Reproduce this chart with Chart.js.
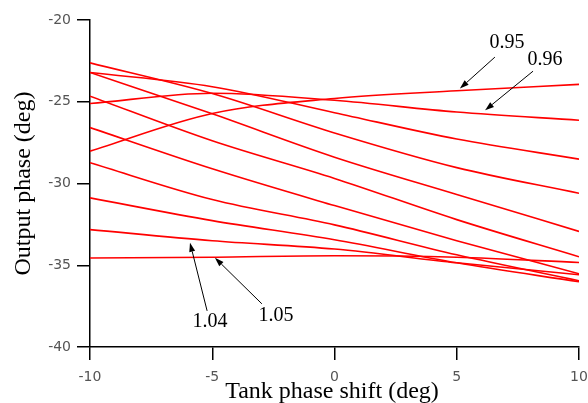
<!DOCTYPE html>
<html><head><meta charset="utf-8">
<script src="https://cdn.jsdelivr.net/npm/chart.js@4.4.1/dist/chart.umd.min.js"></script>
<style>html,body{margin:0;padding:0;background:#fff;}canvas{display:block;}</style>
</head><body>
<canvas id="c" width="588" height="403"></canvas>
<script>
// Tank phase shift (deg) sample positions
const xValues = [-10, -5, 0, 5, 10];
// Output phase (deg) per curve parameter
const seriesNames = ['0.95','0.96','0.97','0.98','0.99','1.00','1.01','1.02','1.03','1.04','1.05'];
const s095 = [-28.02, -25.72, -24.80, -24.33, -23.94];
const s096 = [-25.11, -24.48, -24.91, -25.63, -26.13];
const s097 = [-23.21, -24.08, -25.67, -27.28, -28.51];
const s098 = [-22.62, -24.50, -26.91, -29.03, -30.60];
const s099 = [-23.21, -25.74, -28.39, -30.67, -32.93];
const s100 = [-24.66, -27.39, -29.69, -32.21, -34.48];
const s101 = [-26.58, -29.10, -31.35, -33.50, -35.52];
const s102 = [-28.73, -30.98, -32.53, -34.36, -35.95];
const s103 = [-30.88, -32.27, -33.44, -34.85, -36.01];
const s104 = [-32.82, -33.50, -34.01, -34.85, -35.58];
const s105 = [-34.56, -34.51, -34.42, -34.51, -34.83];
const seriesValues = [s095, s096, s097, s098, s099, s100, s101, s102, s103, s104, s105];
const xTicks = [-10, -5, 0, 5, 10];
const yTicks = [-40, -35, -30, -25, -20];
// callouts: label text, text position, arrow start, arrow tip (data units)
const calloutText = ['0.95', '0.96', '1.04', '1.05'];
const calloutTextPos = [[7.06, -21.41], [8.61, -22.45], [-5.09, -38.47], [-2.39, -38.10]];
const calloutFrom = [[6.56, -22.27], [8.12, -23.13], [-5.21, -37.79], [-2.97, -37.36]];
const calloutTip = [[5.13, -24.19], [6.16, -25.52], [-5.91, -33.62], [-4.89, -34.54]];

const datasets = seriesValues.map((vals, i) => ({
  label: seriesNames[i],
  data: xValues.map((x, j) => ({x: x, y: vals[j]})),
  borderColor: '#ff0000',
  borderWidth: 1.6,
  pointRadius: 0,
  fill: false,
  cubicInterpolationMode: 'monotone'
}));

const decor = {
  id: 'decor',
  afterDraw(chart) {
    const ctx = chart.ctx, xs = chart.scales.x, ys = chart.scales.y, a = chart.chartArea;
    ctx.save();
    ctx.fillStyle = '#000';
    ctx.font = '24px "Liberation Serif", serif';
    ctx.textAlign = 'center';
    ctx.textBaseline = 'alphabetic';
    ctx.fillText('Tank phase shift (deg)', 332, 398);
    ctx.save();
    ctx.translate(30, (a.top + a.bottom) / 2);
    ctx.rotate(-Math.PI / 2);
    ctx.fillText('Output phase (deg)', 0, 0);
    ctx.restore();
    ctx.font = '20px "Liberation Serif", serif';
    ctx.textBaseline = 'middle';
    ctx.strokeStyle = '#000';
    ctx.lineWidth = 1;
    calloutText.forEach((t, i) => {
      ctx.fillText(t, xs.getPixelForValue(calloutTextPos[i][0]), ys.getPixelForValue(calloutTextPos[i][1]));
      const x0 = xs.getPixelForValue(calloutFrom[i][0]), y0 = ys.getPixelForValue(calloutFrom[i][1]);
      const x1 = xs.getPixelForValue(calloutTip[i][0]), y1 = ys.getPixelForValue(calloutTip[i][1]);
      const ang = Math.atan2(y1 - y0, x1 - x0), L = 9, W = 3;
      const bx = x1 - L * Math.cos(ang), by = y1 - L * Math.sin(ang);
      ctx.beginPath(); ctx.moveTo(x0, y0); ctx.lineTo(bx, by); ctx.stroke();
      ctx.beginPath();
      ctx.moveTo(x1, y1);
      ctx.lineTo(bx + W * Math.sin(ang), by - W * Math.cos(ang));
      ctx.lineTo(bx - W * Math.sin(ang), by + W * Math.cos(ang));
      ctx.closePath(); ctx.fill();
    });
    ctx.restore();
  }
};

new Chart(document.getElementById('c'), {
  type: 'line',
  data: {datasets: datasets},
  options: {
    responsive: false,
    devicePixelRatio: 1,
    animation: false,
    layout: {padding: {top: 20, right: 9, left: 0, bottom: 0}},
    plugins: {legend: {display: false}, tooltip: {enabled: false}},
    scales: {
      x: {
        type: 'linear', min: -10, max: 10,
        afterFit(s) { s.height = 56; s.paddingLeft = 0; s.paddingRight = 0; },
        afterBuildTicks(s) { s.ticks = xTicks.map(v => ({value: v})); },
        ticks: {color: '#555', font: {family: '"DejaVu Sans"', size: 14}, padding: 9, maxRotation: 0},
        grid: {drawOnChartArea: false, drawTicks: true, tickLength: 13, color: '#000', lineWidth: 1.5},
        border: {display: true, color: '#000', width: 1.5}
      },
      y: {
        type: 'linear', min: -40, max: -20,
        afterFit(s) { s.width = 90; s.paddingTop = 0; s.paddingBottom = 0; },
        afterBuildTicks(s) { s.ticks = yTicks.map(v => ({value: v})); },
        ticks: {color: '#555', font: {family: '"DejaVu Sans"', size: 14}, padding: 6},
        grid: {drawOnChartArea: false, drawTicks: true, tickLength: 13, color: '#000', lineWidth: 1.5},
        border: {display: true, color: '#000', width: 1.5}
      }
    }
  },
  plugins: [decor]
});
</script>
</body></html>
